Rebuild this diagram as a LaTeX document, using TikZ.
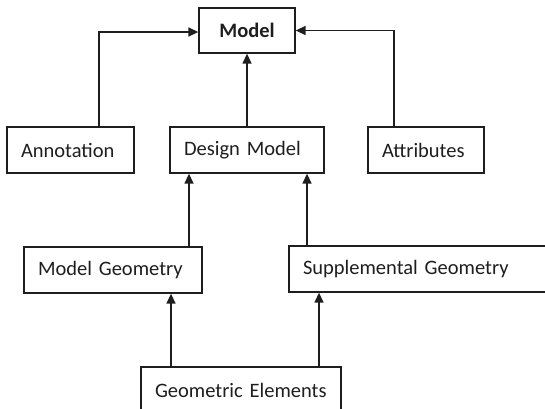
\documentclass[tikz,border=0pt]{standalone}
\usepackage{fontspec}
\setmainfont{Carlito}
\usetikzlibrary{arrows.meta,positioning}
\hyphenpenalty=10000
\definecolor{modelink}{HTML}{1E1E1E}
\tikzset{
  model box/.style={
    draw=modelink,
    line width=1.3pt,
    fill=white,
    align=left,
    inner xsep=14pt,
    inner ysep=0pt,
    minimum height=46pt,
    text=modelink,
    font=\fontsize{20.5}{24}\selectfont,
  },
  model link/.style={-{Triangle[length=10pt,width=9pt]}, line width=1.4pt, draw=modelink},
}

\begin{document}
\begin{tikzpicture}[x=1pt, y=-1pt]

  % --- Frame of the page (boxes run over the right and lower edges) ---
  \clip (0,0) rectangle (545,408);

  % --- Top node ---
  \node[model box, align=center, minimum width=96pt, minimum height=45pt, inner xsep=0pt]
    (model) at (247,30.5) {\bfseries Model};

  % --- Second row ---
  \node[model box, text width=99pt]  (annot)  at (70.5,150) {Annotation};
  \node[model box, text width=126pt] (design) at (247,150)  {Design Model};
  \node[model box, text width=88pt]  (attr)   at (426,150)  {Attributes};

  % --- Geometry row ---
  \node[model box, text width=150pt] (mgeom) at (113,270) {Model Geometry};
  \node[model box, text width=232pt] (sgeom) at (419,269) {Supplemental Geometry};

  % --- Bottom node ---
  \node[model box, text width=172pt] (elems) at (241,390) {Geometric Elements};

  % --- Links up to the model ---
  \draw[model link] ([xshift=28.5pt]annot.north) |- ([yshift=-1.5pt]model.west);
  \draw[model link] ([xshift=-32pt]attr.north) |- (model.east);
  \draw[model link] (design.north) -- (model.south);

  % --- Geometry into the design model ---
  \draw[model link] ([xshift=76pt]mgeom.north) -- ([xshift=76pt]mgeom.north |- design.south);
  \draw[model link] ([xshift=-112pt]sgeom.north) -- ([xshift=-112pt]sgeom.north |- design.south);

  % --- Elements into both geometries ---
  \draw[model link] ([xshift=-70pt]elems.north) -- ([xshift=-70pt]elems.north |- mgeom.south);
  \draw[model link] ([xshift=78pt]elems.north) -- ([xshift=78pt]elems.north |- sgeom.south);

\end{tikzpicture}
\end{document}
